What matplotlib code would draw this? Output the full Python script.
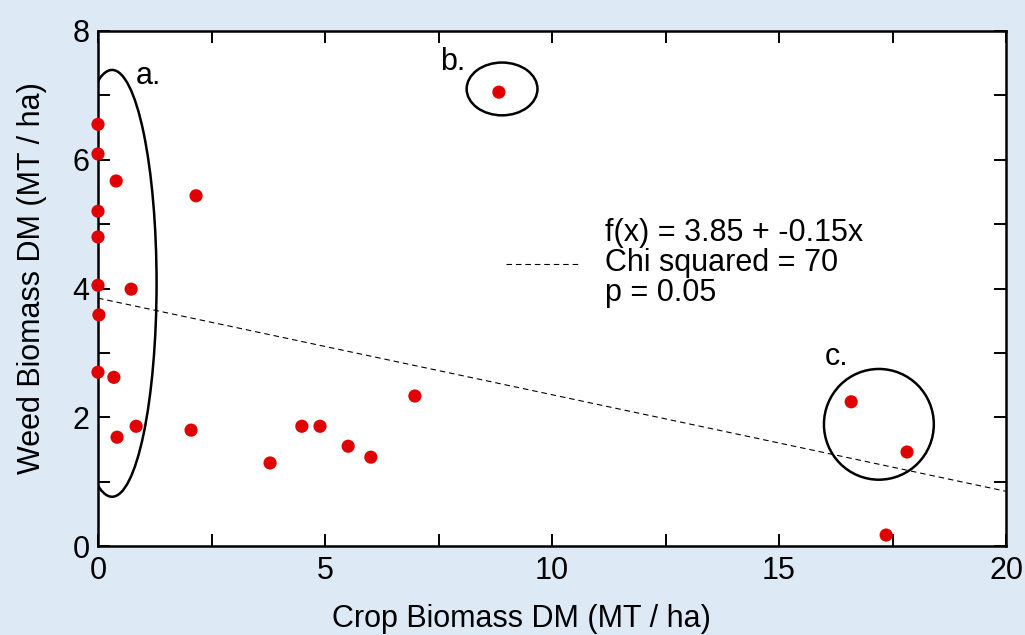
import numpy as np
import matplotlib
matplotlib.use("Agg")
import matplotlib.pyplot as plt
from matplotlib.patches import Ellipse
from matplotlib.ticker import MultipleLocator

plt.rcParams['font.family'] = ['Liberation Sans', 'DejaVu Sans']
plt.rcParams['font.size'] = 22

# data
crop_dm = [0.0, 0.0, 0.4, 0.0, 0.0, 0.0, 0.73, 0.02, 0.0, 0.35, 0.42, 0.84,
           2.05, 2.16, 3.79, 4.49, 4.89, 5.51, 6.01, 6.98, 8.83, 16.59, 17.82, 17.36]
weed_dm = [6.55, 6.09, 5.67, 5.20, 4.80, 4.05, 3.99, 3.59, 2.70, 2.62, 1.69, 1.86,
           1.80, 5.44, 1.29, 1.86, 1.86, 1.55, 1.38, 2.33, 7.05, 2.24, 1.46, 0.17]

fit_intercept = 3.85
fit_slope = -0.15
chi_squared = 70
p_value = 0.05

# circled groups: label, centre, width, height, label position
groups = [
    ("a.", (0.31, 4.08), 1.96, 6.63, (0.84, 7.18)),
    ("b.", (8.90, 7.10), 1.56, 0.82, (7.53, 7.39)),
    ("c.", (17.20, 1.89), 2.42, 1.72, (16.01, 2.81)),
]

bg = '#dde9f5'
red = '#e00000'

fig = plt.figure(figsize=(10.25, 6.35), dpi=100, facecolor=bg)
ax = fig.add_axes([98/1025, 89/635, 908/1025, 515/635])
ax.set_facecolor('white')

xs = np.array([0, 20])
fit_label = "f(x) = %.2f + %.2fx\nChi squared = %d\np = %.2f" % (fit_intercept, fit_slope, chi_squared, p_value)
ax.plot(xs, fit_intercept + fit_slope * xs, color='black', lw=0.8,
        dashes=(5, 3.5), label=fit_label, zorder=2)

ax.scatter(crop_dm, weed_dm, s=90, color=red, edgecolors='none', zorder=5, clip_on=False)

for name, c, w, h, lp in groups:
    ax.add_patch(Ellipse(c, w, h, fill=False, ec='black', lw=1.8, zorder=3))
    ax.text(lp[0], lp[1], name, fontsize=22, ha='left', va='baseline')

ax.set_xlim(0, 20)
ax.set_ylim(0, 8)
ax.xaxis.set_major_locator(MultipleLocator(5))
ax.xaxis.set_minor_locator(MultipleLocator(2.5))
ax.yaxis.set_major_locator(MultipleLocator(2))
ax.yaxis.set_minor_locator(MultipleLocator(1))
ax.tick_params(which='both', direction='in', length=8.5, width=1.4,
               top=True, right=True, labelsize=22)
ax.tick_params(axis='x', pad=7)
ax.tick_params(axis='y', pad=6)
for s in ax.spines.values():
    s.set_linewidth(1.8)

ax.set_xlabel("Crop Biomass DM (MT / ha)", fontsize=22)
ax.set_ylabel("Weed Biomass DM (MT / ha)", fontsize=22)
ax.xaxis.set_label_coords(0.466, -0.112)
ax.yaxis.set_label_coords(-0.056, 0.521)

leg = ax.legend(loc='center left', bbox_to_anchor=(0.449, 0.55), frameon=False,
                handlelength=2.45, handletextpad=0.8, borderpad=0, borderaxespad=0,
                fontsize=22)
for t in leg.get_texts():
    t.set_linespacing(1.0)

fig.savefig("out.png", dpi=100, facecolor=bg)
